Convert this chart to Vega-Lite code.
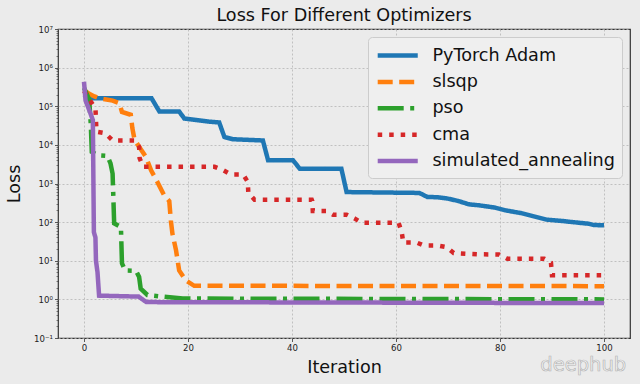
{
  "$schema": "https://vega.github.io/schema/vega-lite/v6.json",
  "autosize": {"type": "none"},
  "padding": {"left": 58, "top": 29, "right": 10, "bottom": 46},
  "width": 572,
  "height": 309,
  "background": "#ebebeb",
  "title": {"text": "Loss For Different Optimizers", "fontSize": 17.6, "font": "DejaVu Sans", "fontWeight": "normal", "color": "#111111", "anchor": "middle", "frame": "group", "offset": 5, "baseline": "alphabetic", "dy": 19},
  "config": {
    "view": {"stroke": "#333333", "strokeWidth": 1.2, "fill": "#ebebeb"},
    "font": "DejaVu Sans",
    "axis": {"domain": false, "labelFont": "DejaVu Sans", "titleFont": "DejaVu Sans", "labelFontSize": 8.6, "labelColor": "#222222", "tickColor": "#333333", "tickWidth": 0.8, "titleFontSize": 17.6, "titleFontWeight": "normal", "titleColor": "#111111", "gridColor": "#b5b5b5", "gridDash": [2, 2], "gridWidth": 0.8}
  },
  "datasets": {
    "loss": [
      {"opt": "PyTorch Adam", "it": 0, "loss": 200000},
      {"opt": "PyTorch Adam", "it": 1, "loss": 160000},
      {"opt": "PyTorch Adam", "it": 13, "loss": 160000},
      {"opt": "PyTorch Adam", "it": 14.5, "loss": 73000},
      {"opt": "PyTorch Adam", "it": 18.3, "loss": 73000},
      {"opt": "PyTorch Adam", "it": 19.3, "loss": 48000},
      {"opt": "PyTorch Adam", "it": 21.6, "loss": 44000},
      {"opt": "PyTorch Adam", "it": 24, "loss": 40000},
      {"opt": "PyTorch Adam", "it": 26, "loss": 38000},
      {"opt": "PyTorch Adam", "it": 27, "loss": 16000},
      {"opt": "PyTorch Adam", "it": 28.6, "loss": 14000},
      {"opt": "PyTorch Adam", "it": 34.4, "loss": 13000},
      {"opt": "PyTorch Adam", "it": 35.4, "loss": 4000},
      {"opt": "PyTorch Adam", "it": 40.2, "loss": 4000},
      {"opt": "PyTorch Adam", "it": 41.5, "loss": 2400},
      {"opt": "PyTorch Adam", "it": 49.5, "loss": 2400},
      {"opt": "PyTorch Adam", "it": 50.5, "loss": 600},
      {"opt": "PyTorch Adam", "it": 64.5, "loss": 570},
      {"opt": "PyTorch Adam", "it": 66, "loss": 450},
      {"opt": "PyTorch Adam", "it": 68, "loss": 440},
      {"opt": "PyTorch Adam", "it": 70, "loss": 406},
      {"opt": "PyTorch Adam", "it": 72, "loss": 352},
      {"opt": "PyTorch Adam", "it": 74, "loss": 289},
      {"opt": "PyTorch Adam", "it": 76, "loss": 272},
      {"opt": "PyTorch Adam", "it": 79, "loss": 238},
      {"opt": "PyTorch Adam", "it": 81, "loss": 202},
      {"opt": "PyTorch Adam", "it": 84, "loss": 172},
      {"opt": "PyTorch Adam", "it": 86.5, "loss": 141},
      {"opt": "PyTorch Adam", "it": 89, "loss": 116},
      {"opt": "PyTorch Adam", "it": 92, "loss": 107},
      {"opt": "PyTorch Adam", "it": 94, "loss": 100},
      {"opt": "PyTorch Adam", "it": 97, "loss": 91},
      {"opt": "PyTorch Adam", "it": 98, "loss": 84},
      {"opt": "PyTorch Adam", "it": 100, "loss": 83},

      {"opt": "slsqp", "it": 0, "loss": 260000},
      {"opt": "slsqp", "it": 1, "loss": 210000},
      {"opt": "slsqp", "it": 2, "loss": 180000},
      {"opt": "slsqp", "it": 3, "loss": 160000},
      {"opt": "slsqp", "it": 5.5, "loss": 140000},
      {"opt": "slsqp", "it": 6.8, "loss": 120000},
      {"opt": "slsqp", "it": 7.3, "loss": 71000},
      {"opt": "slsqp", "it": 9, "loss": 60000},
      {"opt": "slsqp", "it": 9.3, "loss": 27000},
      {"opt": "slsqp", "it": 9.7, "loss": 14000},
      {"opt": "slsqp", "it": 10.6, "loss": 8900},
      {"opt": "slsqp", "it": 11.9, "loss": 4900},
      {"opt": "slsqp", "it": 12.9, "loss": 2200},
      {"opt": "slsqp", "it": 14.1, "loss": 1100},
      {"opt": "slsqp", "it": 15.4, "loss": 500},
      {"opt": "slsqp", "it": 16.4, "loss": 350},
      {"opt": "slsqp", "it": 16.7, "loss": 110},
      {"opt": "slsqp", "it": 17, "loss": 51},
      {"opt": "slsqp", "it": 17.7, "loss": 18.6},
      {"opt": "slsqp", "it": 18.3, "loss": 5.6},
      {"opt": "slsqp", "it": 19.6, "loss": 3.1},
      {"opt": "slsqp", "it": 21.2, "loss": 2.25},
      {"opt": "slsqp", "it": 100, "loss": 2.2},

      {"opt": "pso", "it": 0, "loss": 300000},
      {"opt": "pso", "it": 1, "loss": 150000},
      {"opt": "pso", "it": 1.3, "loss": 35000},
      {"opt": "pso", "it": 1.5, "loss": 6600},
      {"opt": "pso", "it": 2.7, "loss": 5400},
      {"opt": "pso", "it": 4.5, "loss": 5200},
      {"opt": "pso", "it": 5.1, "loss": 3300},
      {"opt": "pso", "it": 5.5, "loss": 1800},
      {"opt": "pso", "it": 5.8, "loss": 93},
      {"opt": "pso", "it": 7.1, "loss": 75},
      {"opt": "pso", "it": 7.3, "loss": 8.6},
      {"opt": "pso", "it": 7.9, "loss": 5.6},
      {"opt": "pso", "it": 10, "loss": 5.5},
      {"opt": "pso", "it": 10.6, "loss": 3.8},
      {"opt": "pso", "it": 10.9, "loss": 1.9},
      {"opt": "pso", "it": 12.2, "loss": 1.3},
      {"opt": "pso", "it": 14.5, "loss": 1.2},
      {"opt": "pso", "it": 19, "loss": 1.05},
      {"opt": "pso", "it": 100, "loss": 1.0},

      {"opt": "cma", "it": 0, "loss": 250000},
      {"opt": "cma", "it": 1, "loss": 150000},
      {"opt": "cma", "it": 2.2, "loss": 90000},
      {"opt": "cma", "it": 2.4, "loss": 22000},
      {"opt": "cma", "it": 4.1, "loss": 20000},
      {"opt": "cma", "it": 5.5, "loss": 13000},
      {"opt": "cma", "it": 9.8, "loss": 13000},
      {"opt": "cma", "it": 10.6, "loss": 8900},
      {"opt": "cma", "it": 10.7, "loss": 4500},
      {"opt": "cma", "it": 11.4, "loss": 2700},
      {"opt": "cma", "it": 25.1, "loss": 2700},
      {"opt": "cma", "it": 26.8, "loss": 2200},
      {"opt": "cma", "it": 28.3, "loss": 1700},
      {"opt": "cma", "it": 30.6, "loss": 1700},
      {"opt": "cma", "it": 31.5, "loss": 1100},
      {"opt": "cma", "it": 31.6, "loss": 570},
      {"opt": "cma", "it": 32.8, "loss": 380},
      {"opt": "cma", "it": 43.8, "loss": 380},
      {"opt": "cma", "it": 43.9, "loss": 350},
      {"opt": "cma", "it": 44, "loss": 195},
      {"opt": "cma", "it": 46.6, "loss": 195},
      {"opt": "cma", "it": 47.9, "loss": 156},
      {"opt": "cma", "it": 50.5, "loss": 156},
      {"opt": "cma", "it": 52.1, "loss": 123},
      {"opt": "cma", "it": 53.4, "loss": 96},
      {"opt": "cma", "it": 60.5, "loss": 96},
      {"opt": "cma", "it": 61.1, "loss": 55},
      {"opt": "cma", "it": 61.4, "loss": 29.5},
      {"opt": "cma", "it": 64, "loss": 29.5},
      {"opt": "cma", "it": 65.3, "loss": 25},
      {"opt": "cma", "it": 67.9, "loss": 25},
      {"opt": "cma", "it": 69.7, "loss": 22.6},
      {"opt": "cma", "it": 71.1, "loss": 15.8},
      {"opt": "cma", "it": 75.6, "loss": 14.7},
      {"opt": "cma", "it": 79.8, "loss": 14.5},
      {"opt": "cma", "it": 81.4, "loss": 11.3},
      {"opt": "cma", "it": 88.5, "loss": 11.3},
      {"opt": "cma", "it": 89.8, "loss": 8.9},
      {"opt": "cma", "it": 90, "loss": 4.2},
      {"opt": "cma", "it": 100, "loss": 4.2},

      {"opt": "simulated_annealing", "it": 0, "loss": 430000},
      {"opt": "simulated_annealing", "it": 0.3, "loss": 140000},
      {"opt": "simulated_annealing", "it": 1, "loss": 80000},
      {"opt": "simulated_annealing", "it": 1.7, "loss": 44000},
      {"opt": "simulated_annealing", "it": 1.9, "loss": 55},
      {"opt": "simulated_annealing", "it": 2.2, "loss": 40},
      {"opt": "simulated_annealing", "it": 2.3, "loss": 10},
      {"opt": "simulated_annealing", "it": 2.6, "loss": 5},
      {"opt": "simulated_annealing", "it": 2.9, "loss": 1.25},
      {"opt": "simulated_annealing", "it": 10.5, "loss": 1.18},
      {"opt": "simulated_annealing", "it": 12, "loss": 0.85},
      {"opt": "simulated_annealing", "it": 100, "loss": 0.8}
    ]
  },
  "layer": [
    {
      "data": {"name": "loss"},
      "mark": {"type": "line", "strokeWidth": 4.5, "interpolate": "linear"},
      "encoding": {
        "x": {"field": "it", "type": "quantitative", "title": "Iteration",
              "scale": {"domain": [-5, 105], "nice": false, "zero": false},
              "axis": {"values": [0, 20, 40, 60, 80, 100], "tickSize": 3.5, "labelPadding": 2, "titlePadding": 6, "labelFlush": false}},
        "y": {"field": "loss", "type": "quantitative", "title": "Loss",
              "scale": {"type": "log", "domain": [0.1, 10000000], "nice": false},
              "axis": {
                "values": [0.1,0.2,0.3,0.4,0.5,0.6,0.7,0.8,0.9,1,2,3,4,5,6,7,8,9,10,20,30,40,50,60,70,80,90,100,200,300,400,500,600,700,800,900,1000,2000,3000,4000,5000,6000,7000,8000,9000,10000,20000,30000,40000,50000,60000,70000,80000,90000,100000,200000,300000,400000,500000,600000,700000,800000,900000,1000000,2000000,3000000,4000000,5000000,6000000,7000000,8000000,9000000,10000000],
                "labelExpr": "abs(log(datum.value)/LN10 - round(log(datum.value)/LN10)) < 1e-6 ? ['10⁻¹','10⁰','10¹','10²','10³','10⁴','10⁵','10⁶','10⁷'][round(log(datum.value)/LN10)+1] : ''",
                "labelOverlap": false,
                "labelBound": false,
                "labelPadding": 2,
                "titlePadding": 10,
                "tickSize": {"condition": {"test": "abs(log(datum.value)/LN10 - round(log(datum.value)/LN10)) < 1e-6", "value": 3.5}, "value": 2},
                "tickWidth": {"condition": {"test": "abs(log(datum.value)/LN10 - round(log(datum.value)/LN10)) < 1e-6", "value": 0.8}, "value": 0.6},
                "gridOpacity": {"condition": {"test": "abs(log(datum.value)/LN10 - round(log(datum.value)/LN10)) < 1e-6", "value": 1}, "value": 0}
              }},
        "color": {"field": "opt", "type": "nominal", "title": null,
                  "scale": {"domain": ["PyTorch Adam", "slsqp", "pso", "cma", "simulated_annealing"], "range": ["#1f77b4", "#ff7f0e", "#2ca02c", "#d62728", "#9467bd"]},
                  "legend": {"orient": "top-right", "offset": 8, "labelFontSize": 17.6, "labelFont": "DejaVu Sans", "labelColor": "#111111", "symbolType": "M-1,0H3.55", "symbolSize": 310, "symbolStrokeWidth": 4.5, "labelOffset": 34.4, "rowPadding": 5.4, "padding": 7, "fillColor": "#efefef", "strokeColor": "#cccccc", "cornerRadius": 4, "labelLimit": 400}},
        "strokeDash": {"field": "opt", "type": "nominal", "title": null,
                       "scale": {"domain": ["PyTorch Adam", "slsqp", "pso", "cma", "simulated_annealing"], "range": [[1, 0], [15, 6.5], [26, 6.5, 4, 6.5], [4.5, 7], [1, 0]]}}
      }
    },
    {
      "data": {"values": [{}]},
      "mark": {"type": "text", "text": "deephub", "fontSize": 19.5, "font": "DejaVu Sans", "fill": "#f6f6f6", "stroke": "#b5b5b5", "strokeWidth": 0.7, "align": "center", "baseline": "middle"},
      "encoding": {
        "x": {"datum": 96, "type": "quantitative"},
        "y": {"datum": 0.0195, "type": "quantitative"}
      }
    }
  ]
}
